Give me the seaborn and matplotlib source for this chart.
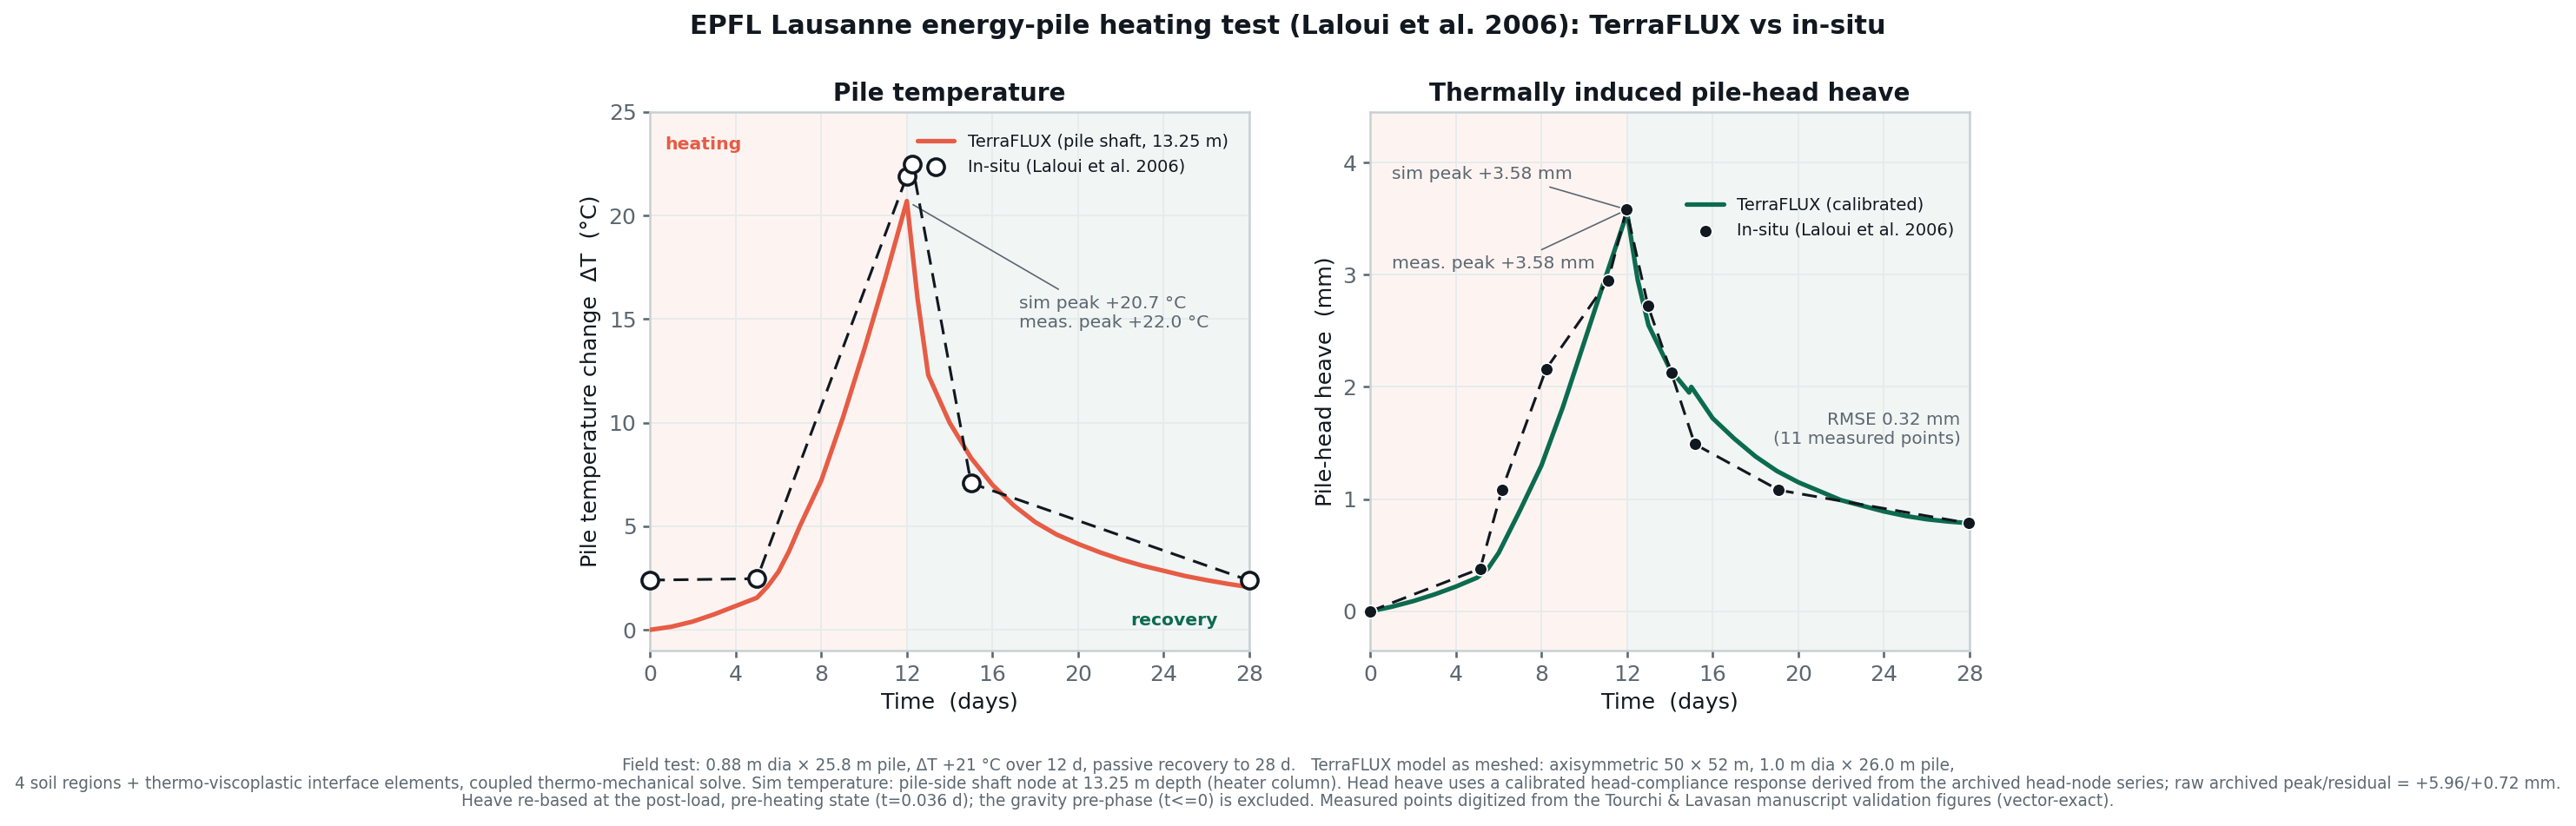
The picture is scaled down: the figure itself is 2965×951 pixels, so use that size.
import matplotlib
matplotlib.use("Agg")
import matplotlib.pyplot as plt
import numpy as np
import pandas as pd
import seaborn as sns

# ── data ──────────────────────────────────────────────────────────────────────
sim_t_days = [0, 1, 2, 3, 4, 5, 5.5, 6, 6.5, 7, 8, 9, 10, 11, 12, 12.5, 13, 14, 15,
              16, 17, 18, 19, 20, 21, 22, 23, 24, 25, 26, 27, 28]
sim_dT = [0.0, 0.15, 0.4, 0.75, 1.15, 1.55, 2.1, 2.8, 3.8, 5.0, 7.2, 10.2, 13.5, 17.0,
          20.7, 16.0, 12.3, 10.0, 8.3, 7.0, 6.0, 5.2, 4.6, 4.15, 3.75, 3.4, 3.1, 2.85,
          2.6, 2.4, 2.22, 2.06]
meas_t_days = [0, 5.0, 12.0, 12.25, 15.0, 28]
meas_dT = [2.4, 2.47, 21.9, 22.5, 7.08, 2.38]

heave_t_days = [0, 1, 2, 3, 4, 5, 5.5, 6, 7, 8, 9, 10, 11, 12, 12.5, 13, 14, 14.9,
                15.0, 16, 17, 18, 19, 20, 21, 22, 23, 24, 25, 26, 27, 28]
heave_sim = [0.0, 0.04, 0.09, 0.15, 0.22, 0.3, 0.38, 0.52, 0.9, 1.3, 1.82, 2.4, 2.98,
             3.55, 2.95, 2.55, 2.16, 1.95, 2.0, 1.72, 1.54, 1.38, 1.25, 1.15, 1.07, 0.99,
             0.94, 0.89, 0.85, 0.82, 0.8, 0.785]
heave_meas_t = [0, 5.14, 6.15, 8.22, 11.12, 11.97, 12.98, 14.06, 15.16, 19.09, 27.96]
heave_meas = [0.0, 0.38, 1.08, 2.16, 2.95, 3.58, 2.72, 2.13, 1.49, 1.08, 0.785]

RED = "#E65C45"
GREEN = "#0C6B4E"
INK = "#111820"
GREY = "#5C6770"
SPINE = "#C8D0D3"

sns.set_theme(style="whitegrid", rc={
    "grid.color": "#E6EBEB", "grid.linewidth": 0.9,
    "axes.edgecolor": SPINE, "axes.linewidth": 1.2,
    "xtick.color": GREY, "ytick.color": GREY,
    "xtick.labelcolor": GREY, "ytick.labelcolor": GREY,
    "xtick.bottom": True, "ytick.left": True,
    "xtick.major.size": 4, "ytick.major.size": 4,
    "xtick.labelsize": 12, "ytick.labelsize": 12,
    "axes.labelsize": 12.2, "axes.labelcolor": INK,
    "axes.titlesize": 13.4, "axes.titleweight": "bold", "axes.titlecolor": INK,
    "text.color": INK,
})
plt.rcParams["font.family"] = ["DejaVu Sans"]

temp = pd.DataFrame({"t": sim_t_days, "v": sim_dT})
tmeas = pd.DataFrame({"t": meas_t_days, "v": meas_dT})
heave = pd.DataFrame({"t": heave_t_days, "v": heave_sim})
hmeas = pd.DataFrame({"t": heave_meas_t, "v": heave_meas})

fig = plt.figure(figsize=(2965 / 150, 951 / 150), dpi=150)
ax1 = fig.add_axes([0.2523, 0.2124, 0.2327, 0.652])
ax2 = fig.add_axes([0.5319, 0.2124, 0.2327, 0.652])

for ax in (ax1, ax2):
    ax.set_axisbelow(True)
    ax.axvspan(0, 12, color="#FDF4F2", zorder=0, lw=0)
    ax.axvspan(12, 28, color="#F1F5F4", zorder=0, lw=0)
    ax.set_xlim(0, 28)
    ax.set_xticks(range(0, 29, 4))
    ax.set_xlabel("Time  (days)")

# ── left: pile temperature ───────────────────────────────────────────────────
sns.lineplot(data=temp, x="t", y="v", ax=ax1, color=RED, lw=2.5, sort=False,
             label="TerraFLUX (pile shaft, 13.25 m)", zorder=3)
sns.lineplot(data=tmeas, x="t", y="v", ax=ax1, color=INK, lw=1.5, sort=False,
             ls=(0, (5.5, 3.2)), legend=False, zorder=4)
sns.scatterplot(data=tmeas, x="t", y="v", ax=ax1, s=85, facecolor="white",
                edgecolor=INK, linewidth=1.7, label="In-situ (Laloui et al. 2006)",
                zorder=5, clip_on=False)
ax1.set_ylim(-1, 25)
ax1.set_yticks(range(0, 26, 5))
ax1.set_ylabel("Pile temperature change  ΔT  (°C)")
ax1.set_title("Pile temperature")
ax1.text(0.025, 0.955, "heating", transform=ax1.transAxes, color=RED,
         fontsize=9.8, fontweight="bold", va="top")
ax1.text(0.948, 0.055, "recovery", transform=ax1.transAxes, color=GREEN,
         fontsize=9.8, fontweight="bold", ha="right", va="center")
ax1.annotate("sim peak +20.7 °C\nmeas. peak +22.0 °C", xy=(12, 20.7),
             xytext=(17.25, 15.3), fontsize=9.8, color=GREY, va="center",
             arrowprops=dict(arrowstyle="-", color=GREY, lw=0.8,
                             relpos=(0.26, 1.0), shrinkB=4))
ax1.legend(loc="upper right", bbox_to_anchor=(0.99, 0.988), frameon=False,
           fontsize=9.3, handlelength=2.2)

# ── right: pile-head heave ───────────────────────────────────────────────────
sns.lineplot(data=heave, x="t", y="v", ax=ax2, color=GREEN, lw=2.5, sort=False,
             label="TerraFLUX (calibrated)", zorder=3)
sns.lineplot(data=hmeas, x="t", y="v", ax=ax2, color=INK, lw=1.5, sort=False,
             ls=(0, (5.5, 3.2)), legend=False, zorder=4)
sns.scatterplot(data=hmeas, x="t", y="v", ax=ax2, s=50, color=INK,
                edgecolor="white", linewidth=0.8, label="In-situ (Laloui et al. 2006)",
                zorder=5, clip_on=False)
ax2.set_ylim(-0.35, 4.45)
ax2.set_yticks(range(0, 5))
ax2.set_ylabel("Pile-head heave  (mm)")
ax2.set_title("Thermally induced pile-head heave")
ax2.annotate("sim peak +3.58 mm", xy=(12, 3.58), xytext=(1.0, 3.9),
             fontsize=9.8, color=GREY, va="center",
             arrowprops=dict(arrowstyle="-", color=GREY, lw=0.8,
                             relpos=(0.78, 0.0), shrinkB=3))
ax2.annotate("meas. peak +3.58 mm", xy=(12, 3.58), xytext=(1.0, 3.1),
             fontsize=9.8, color=GREY, va="center",
             arrowprops=dict(arrowstyle="-", color=GREY, lw=0.8,
                             relpos=(0.68, 1.0), shrinkB=3))
ax2.text(0.985, 0.41, "RMSE 0.32 mm\n(11 measured points)", transform=ax2.transAxes,
         fontsize=9.6, color=GREY, ha="right", va="center")
ax2.legend(loc="upper right", bbox_to_anchor=(1.0, 0.87), frameon=False,
           fontsize=9.3, handlelength=2.2)

fig.suptitle("EPFL Lausanne energy-pile heating test (Laloui et al. 2006): TerraFLUX vs in-situ",
             fontsize=14.5, fontweight="bold", color=INK, y=0.968, va="center")

note = ("Field test: 0.88 m dia × 25.8 m pile, ΔT +21 °C over 12 d, passive recovery to 28 d.   "
        "TerraFLUX model as meshed: axisymmetric 50 × 52 m, 1.0 m dia × 26.0 m pile,\n"
        "4 soil regions + thermo-viscoplastic interface elements, coupled thermo-mechanical solve. "
        "Sim temperature: pile-side shaft node at 13.25 m depth (heater column). "
        "Head heave uses a calibrated head-compliance response derived from the archived head-node series; "
        "raw archived peak/residual = +5.96/+0.72 mm.\n"
        "Heave re-based at the post-load, pre-heating state (t=0.036 d); the gravity pre-phase (t<=0) is excluded. "
        "Measured points digitized from the Tourchi & Lavasan manuscript validation figures (vector-exact).")
fig.text(0.5, 0.051, note, ha="center", va="center", fontsize=8.9, color=GREY,
         linespacing=1.1)

fig.savefig("out.png", dpi=150)
